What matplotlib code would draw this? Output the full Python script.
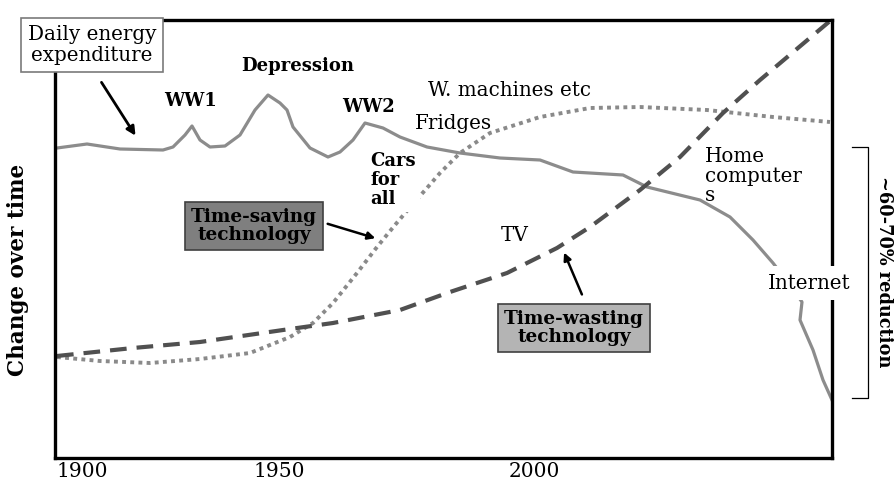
import numpy as np
import matplotlib.pyplot as plt

# chart units: x 0..777 (time, left to right), y 0..438 (change, bottom to top)
energy_x = [2, 32, 65, 108, 118, 130, 137, 145, 155, 170, 185, 200, 213, 225, 232, 238, 255, 273, 285,
            298, 310, 328, 345, 372, 405, 445, 485, 518, 568, 592, 645, 675, 698, 718, 735, 747, 745,
            758, 768, 777]
energy_y = [310, 314, 309, 308, 311, 323, 332, 318, 311, 312, 323, 348, 363, 355, 348, 331, 310, 301, 306,
            318, 335, 330, 321, 311, 305, 300, 298, 286, 283, 271, 258, 241, 218, 195, 173, 156, 138,
            108, 78, 58]

saving_x = [2, 45, 95, 145, 195, 235, 258, 278, 302, 322, 340, 357, 372, 385, 405, 435, 485, 535, 585,
            652, 718, 775]
saving_y = [101, 97, 95, 99, 105, 121, 135, 155, 185, 211, 233, 253, 270, 285, 305, 325, 341, 350, 351,
            348, 341, 336]

wasting_x = [2, 78, 145, 235, 278, 345, 395, 452, 502, 535, 585, 625, 668, 705, 775]
wasting_y = [102, 110, 116, 129, 135, 148, 166, 185, 210, 231, 268, 301, 345, 378, 437]

tick_pos = [27, 224, 479]
tick_labels = ["1900", "1950", "2000"]

serif = "DejaVu Serif"
plt.rcParams['font.family'] = serif

fig = plt.figure(figsize=(8.96, 4.86), dpi=100)
ax = fig.add_axes([55 / 896, 28 / 486, 777 / 896, 438 / 486])
ax.set_xlim(0, 777)
ax.set_ylim(0, 438)
for s in ax.spines.values():
    s.set_linewidth(2.4)
    s.set_color('black')
ax.set_yticks([])
ax.set_xticks(tick_pos)
ax.set_xticklabels(tick_labels, fontsize=14.5)
ax.tick_params(axis='x', length=0, pad=3)

ax.plot(energy_x, energy_y, color='#8c8c8c', lw=2.3, solid_joinstyle='round', zorder=2)
ax.plot(saving_x, saving_y, color='#8a8a8a', lw=2.8, linestyle=(0, (1, 1.1)), zorder=2)
ax.plot(wasting_x, wasting_y, color='#505050', lw=3, linestyle=(0, (4, 2.4)), zorder=2)

# labels
ax.text(37, 413, "Daily energy\nexpenditure", fontsize=14.3, ha='center', va='center', clip_on=False,
        zorder=5, linespacing=1.1,
        bbox=dict(boxstyle='square,pad=0.35', fc='white', ec='#7a7a7a', lw=1.2))
ax.annotate("", xy=(82, 320), xytext=(45, 378),
            arrowprops=dict(arrowstyle='-|>', color='black', lw=2, mutation_scale=13))

bold = dict(fontsize=13, fontweight='bold', ha='center', va='center')
ax.text(135, 357, "WW1", **bold)
ax.text(243, 392, "Depression", **bold)
ax.text(313, 351, "WW2", **bold)

ax.text(373, 368, "W. machines etc", fontsize=14.3, ha='left', va='center')
ax.text(360, 335, "Fridges", fontsize=14.3, ha='left', va='center')
ax.text(315, 278, "Cars\nfor\nall", fontsize=13, fontweight='bold', ha='left', va='center',
        linespacing=1.05, zorder=4, bbox=dict(boxstyle='square,pad=0.25', fc='white', ec='none'))

ax.text(199, 232, "Time-saving\ntechnology", fontsize=13.3, fontweight='bold', ha='center', va='center',
        linespacing=1.0, zorder=5,
        bbox=dict(boxstyle='square,pad=0.3', fc='#7f7f7f', ec='#404040', lw=1.2))
ax.annotate("", xy=(323, 219), xytext=(270, 235),
            arrowprops=dict(arrowstyle='-|>', color='black', lw=1.8, mutation_scale=11))

ax.text(460, 223, "TV", fontsize=14.3, ha='center', va='center')

ax.text(519, 130, "Time-wasting\ntechnology", fontsize=13.3, fontweight='bold', ha='center', va='center',
        linespacing=1.0, zorder=5,
        bbox=dict(boxstyle='square,pad=0.35', fc='#b4b4b4', ec='#404040', lw=1.2))
ax.annotate("", xy=(508, 208), xytext=(528, 161),
            arrowprops=dict(arrowstyle='-|>', color='black', lw=1.8, mutation_scale=11))

ax.text(650, 282, "Home\ncomputer\ns", fontsize=14.3, ha='left', va='center', linespacing=1.05)
ax.text(754, 175, "Internet", fontsize=14.3, ha='center', va='center', clip_on=False, zorder=5,
        bbox=dict(boxstyle='square,pad=0.4', fc='white', ec='none'))

# bracket on the right
ax.plot([797, 813, 813, 797], [311, 311, 60, 60], color='black', lw=0.9, clip_on=False)
ax.text(829, 186, "~60-70% reduction", fontsize=12.8, fontweight='bold', rotation=270,
        ha='center', va='center', clip_on=False)

ax.text(-37, 188, "Change over time", fontsize=15.5, fontweight='bold', rotation=90,
        ha='center', va='center', clip_on=False)

fig.savefig("out.png", dpi=100)
